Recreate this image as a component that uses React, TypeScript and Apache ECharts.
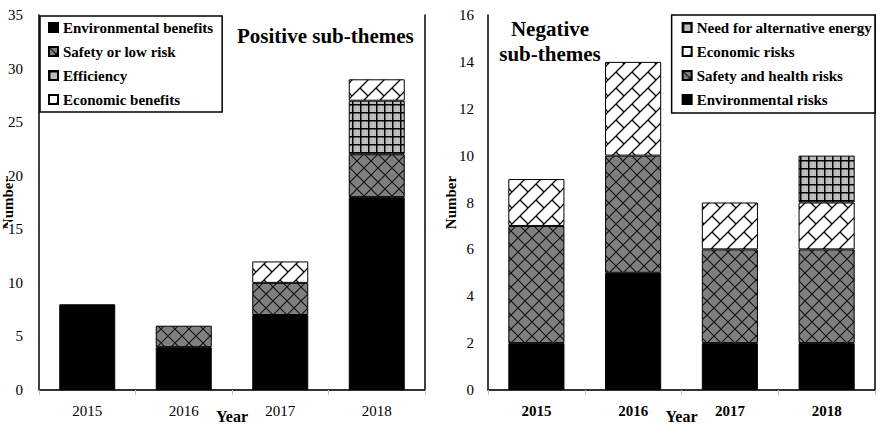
import React, { useEffect, useRef } from "react";
import * as echarts from "echarts";

const years = ["2015", "2016", "2017", "2018"];

// Positive sub-themes (left)
const posEnvironmental = [8, 4, 7, 18];
const posSafety = [0, 2, 3, 4];
const posEfficiency = [0, 0, 0, 5];
const posEconomic = [0, 0, 2, 2];

// Negative sub-themes (right)
const negEnvironmental = [2, 5, 2, 2];
const negSafety = [5, 5, 4, 4];
const negEconomic = [2, 4, 2, 2];
const negAlternative = [0, 0, 0, 2];

const FONT = "Liberation Serif";

function makeCanvas(size: number) {
  const c = document.createElement("canvas");
  c.width = size;
  c.height = size;
  return c;
}

function diamondPattern() {
  const s = 14;
  const c = makeCanvas(s);
  const g = c.getContext("2d")!;
  g.fillStyle = "#7f7f7f";
  g.fillRect(0, 0, s, s);
  g.strokeStyle = "#111";
  g.lineWidth = 1.1;
  g.beginPath();
  g.moveTo(0, 0);
  g.lineTo(s, s);
  g.moveTo(s, 0);
  g.lineTo(0, s);
  g.stroke();
  return c;
}

function brickPattern() {
  const s = 16;
  const c = makeCanvas(s);
  const g = c.getContext("2d")!;
  g.fillStyle = "#fff";
  g.fillRect(0, 0, s, s);
  g.strokeStyle = "#000";
  g.lineWidth = 1.3;
  for (let dx = -s; dx <= s; dx += s) {
    for (let dy = -s; dy <= s; dy += s) {
      g.beginPath();
      g.moveTo(dx + 0, dy + s);
      g.lineTo(dx + s, dy + 0);
      g.moveTo(dx + 8, dy + 8);
      g.lineTo(dx + 16, dy + 16);
      g.stroke();
    }
  }
  return c;
}

function gridPattern() {
  const s = 8;
  const c = makeCanvas(s);
  const g = c.getContext("2d")!;
  g.fillStyle = "#bdbdbd";
  g.fillRect(0, 0, s, s);
  g.fillStyle = "#000";
  g.fillRect(0, 0, s, 1.5);
  g.fillRect(0, 0, 1.5, s);
  return c;
}

export default function App() {
  const ref = useRef<HTMLDivElement>(null);

  useEffect(() => {
    if (!ref.current) return;
    const chart = echarts.init(ref.current, null, { renderer: "svg" });

    const diamond = { image: diamondPattern(), repeat: "repeat" } as any;
    const brick = { image: brickPattern(), repeat: "repeat" } as any;
    const gridP = { image: gridPattern(), repeat: "repeat" } as any;

    const grids = [
      { left: 39, top: 15, width: 386, height: 375, outerBoundsMode: "none", containLabel: false },
      { left: 488, top: 15, width: 387, height: 375, outerBoundsMode: "none", containLabel: false },
    ];

    const xAxes: any[] = [];
    const yAxes: any[] = [];
    [0, 1].forEach((gi) => {
      xAxes.push({
        type: "category",
        gridIndex: gi,
        data: years,
        position: "bottom",
        axisLine: { show: true, lineStyle: { color: "#bfbfbf", width: 1.5 } },
        axisTick: { show: true, length: 5, lineStyle: { color: "#bfbfbf" } },
        axisLabel: {
          color: "#000",
          fontFamily: FONT,
          fontSize: 15,
          fontWeight: gi === 1 ? "bold" : "normal",
          margin: 13,
        },
        name: "Year",
        nameLocation: "middle",
        nameGap: 18,
        nameMoveOverlap: false,
        nameTextStyle: {
          color: "#000",
          fontFamily: FONT,
          fontSize: 16,
          fontWeight: "bold",
        },
      });
      xAxes.push({
        type: "category",
        gridIndex: gi,
        data: years,
        position: "top",
        axisLine: { show: true, lineStyle: { color: "#000", width: 1.5 } },
        axisTick: { show: false },
        axisLabel: { show: false },
      });
      yAxes.push({
        type: "value",
        gridIndex: gi,
        min: 0,
        max: gi === 0 ? 35 : 16,
        interval: gi === 0 ? 5 : 2,
        position: "left",
        splitLine: { show: false },
        axisTick: { show: false },
        axisLine: { show: true, lineStyle: { color: "#000", width: 1.5 } },
        axisLabel: {
          color: "#000",
          fontFamily: FONT,
          fontSize: 15,
          margin: gi === 0 ? 16 : 14,
          backgroundColor: "#fff",
        },
        name: "Number",
        nameLocation: "middle",
        nameGap: gi === 0 ? 24 : 30,
        nameMoveOverlap: false,
        nameTextStyle: {
          color: "#000",
          fontFamily: FONT,
          fontSize: 15,
          fontWeight: "bold",
        },
      });
      yAxes.push({
        type: "value",
        gridIndex: gi,
        min: 0,
        max: gi === 0 ? 35 : 16,
        interval: gi === 0 ? 5 : 2,
        position: "right",
        splitLine: { show: false },
        axisTick: { show: false },
        axisLabel: { show: false },
        axisLine: { show: true, lineStyle: { color: "#000", width: 1.5 } },
      });
    });

    const bar = (
      name: string,
      data: number[],
      color: any,
      gi: number,
      stack: string
    ) => ({
      name,
      type: "bar",
      stack,
      xAxisIndex: gi * 2,
      yAxisIndex: gi * 2,
      barWidth: "58%",
      data: data.map((v) => (v === 0 ? null : v)),
      itemStyle: { color, borderColor: "#000", borderWidth: 1 },
    });

    const legendText: any = {
      color: "#000",
      fontFamily: FONT,
      fontSize: 15,
      fontWeight: "bold",
    };

    chart.setOption({
      animation: false,
      backgroundColor: "#fff",
      textStyle: { fontFamily: FONT },
      grid: grids,
      xAxis: xAxes,
      yAxis: yAxes,
      legend: [
        {
          orient: "vertical",
          left: 40,
          top: 16,
          data: [
            "Environmental benefits",
            "Safety or low risk",
            "Efficiency",
            "Economic benefits",
          ],
          itemWidth: 9,
          itemHeight: 9,
          itemGap: 9,
          padding: [4, 9, 5, 8],
          borderColor: "#000",
          borderWidth: 1.5,
          backgroundColor: "#fff",
          icon: "rect",
          textStyle: legendText,
          selectedMode: false,
        },
        {
          orient: "vertical",
          right: 5,
          top: 15,
          data: [
            "Need for alternative energy",
            "Economic risks",
            "Safety and health risks",
            "Environmental risks",
          ],
          itemWidth: 9,
          itemHeight: 9,
          itemGap: 9,
          padding: [5, 3, 6, 10],
          borderColor: "#000",
          borderWidth: 1.5,
          backgroundColor: "#fff",
          icon: "rect",
          textStyle: legendText,
          selectedMode: false,
        },
      ],
      title: [
        {
          text: "Positive sub-themes",
          left: 237,
          top: 25,
          textStyle: {
            color: "#000",
            fontFamily: FONT,
            fontSize: 21,
            fontWeight: "bold",
          },
          padding: 0,
        },
        {
          text: "Negative\nsub-themes",
          left: 550,
          top: 16,
          textAlign: "center",
          textStyle: {
            color: "#000",
            fontFamily: FONT,
            fontSize: 21,
            fontWeight: "bold",
            lineHeight: 25,
            align: "center",
          },
          padding: 0,
        },
      ],
      series: [
        bar("Environmental benefits", posEnvironmental, "#000", 0, "pos"),
        bar("Safety or low risk", posSafety, diamond, 0, "pos"),
        bar("Efficiency", posEfficiency, gridP, 0, "pos"),
        bar("Economic benefits", posEconomic, brick, 0, "pos"),
        bar("Environmental risks", negEnvironmental, "#000", 1, "neg"),
        bar("Safety and health risks", negSafety, diamond, 1, "neg"),
        bar("Economic risks", negEconomic, brick, 1, "neg"),
        bar("Need for alternative energy", negAlternative, gridP, 1, "neg"),
      ],
    });

    return () => chart.dispose();
  }, []);

  return (
    <div
      ref={ref}
      style={{
        position: "absolute",
        left: 0,
        top: 0,
        width: 880,
        height: 434,
        background: "#fff",
      }}
    />
  );
}
